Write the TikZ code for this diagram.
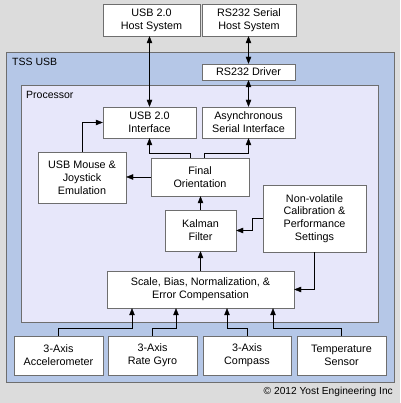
\documentclass[tikz,border=0pt]{standalone}
\usepackage{fontspec}
\setmainfont{Liberation Sans}
\usetikzlibrary{arrows.meta}
\definecolor{bggray}{RGB}{220,220,220}
\definecolor{tssblue}{RGB}{181,199,231}
\definecolor{proclav}{RGB}{231,231,250}
\definecolor{boxgray}{RGB}{110,110,110}
\tikzset{
  box/.style={draw=boxgray, fill=white, align=center, inner sep=0pt, font=\fontsize{10.8}{12.8}\selectfont},
  lbl/.style={anchor=west, inner sep=0pt, font=\fontsize{10.5}{12}\selectfont},
  arr/.style={-{Triangle[length=7pt,width=5.5pt]}},
  dbl/.style={{Triangle[length=7pt,width=5.5pt]}-{Triangle[length=7pt,width=5.5pt]}}
}
\begin{document}
\begin{tikzpicture}[x=1pt,y=1pt]
	\fill[bggray] (0,0) rectangle (400,403);
	\useasboundingbox (0,0) rectangle (400,403);
	% enclosures
	\draw[boxgray,fill=tssblue] (6,21) rectangle (394,351);
	\node[lbl] (tsslbl) at (12,341){TSS USB};
	\draw[boxgray,fill=proclav] (21,81) rectangle (378,318);
	\node[lbl] (proclbl) at (26,308){Processor};
	% host systems
	\node[box,minimum width=97pt,minimum height=32pt] (usbhost) at (151.5,383){USB 2.0\\Host System};
	\node[box,minimum width=94pt,minimum height=32pt] (rshost) at (249,383){RS232 Serial\\Host System};
	\node[box,minimum width=93pt,minimum height=16pt] (driver) at (248.5,331){RS232 Driver};
	% processor blocks
	\node[box,minimum width=93pt,minimum height=31pt] (usbif) at (149.5,280.5){USB 2.0\\Interface};
	\node[box,minimum width=93pt,minimum height=31pt] (async) at (248.5,280.5){Asynchronous\\Serial Interface};
	\node[box,minimum width=88pt,minimum height=51pt] (mouse) at (82,225.5){USB Mouse \&\\Joystick\\Emulation};
	\node[box,minimum width=98pt,minimum height=38pt] (final) at (200,226){Final\\Orientation};
	\node[box,minimum width=71pt,minimum height=41pt] (kalman) at (200.5,172.5){Kalman\\Filter};
	\node[box,minimum width=103pt,minimum height=67pt] (nonvol) at (314.5,184.5){Non-volatile\\Calibration \&\\Performance\\Settings};
	\node[box,minimum width=187pt,minimum height=37pt] (scale) at (200.5,113.5){Scale, Bias, Normalization, \&\\Error Compensation};
	% sensors
	\node[box,minimum width=89pt,minimum height=39pt] (accel) at (58.5,47.5){3-Axis\\Accelerometer};
	\node[box,minimum width=89pt,minimum height=39pt] (gyro) at (152.5,47.5){3-Axis\\Rate Gyro};
	\node[box,minimum width=88pt,minimum height=39pt] (compass) at (247,47.5){3-Axis\\Compass};
	\node[box,minimum width=89pt,minimum height=39pt] (temp) at (341.5,47.5){Temperature\\Sensor};
	\node[anchor=east,inner sep=0pt,font=\fontsize{10.2}{12}\selectfont] (copy) at (393,11){\textcopyright{} 2012 Yost Engineering Inc};
	% connectors
	\draw[dbl] (usbif.north |- usbhost.south) -- (usbif.north);
	\draw[dbl] (driver.north |- rshost.south) -- (driver.north);
	\draw[dbl] (driver.south) -- (async.north);
	\draw[arr] (mouse.north) |- (usbif.west);
	\draw[arr] ([xshift=-10pt]final.north) -- ++(0,5) -| (usbif.south);
	\draw[arr] ([xshift=4pt]final.north) -- ++(0,5) -| (async.south);
	\draw[arr] (final.west) -- (final.west -| mouse.east);
	\draw[arr] (kalman.north) -- (kalman.north |- final.south);
	\draw[arr] (nonvol.west) -- ++(-11,0) |- (kalman.east);
	\draw[arr] (nonvol.south) |- (scale.east);
	\draw[arr] (scale.north) -- (kalman.south);
	\draw[arr] (accel.north) -- ++(0,8) -| ([xshift=-68.5pt]scale.south);
	\draw[arr] (gyro.north) -- ++(0,8) -| ([xshift=-24.5pt]scale.south);
	\draw[arr] (compass.north) -- ++(0,8) -| ([xshift=26.5pt]scale.south);
	\draw[arr] (temp.north) -- ++(0,8) -| ([xshift=72.5pt]scale.south);
\end{tikzpicture}
\end{document}
